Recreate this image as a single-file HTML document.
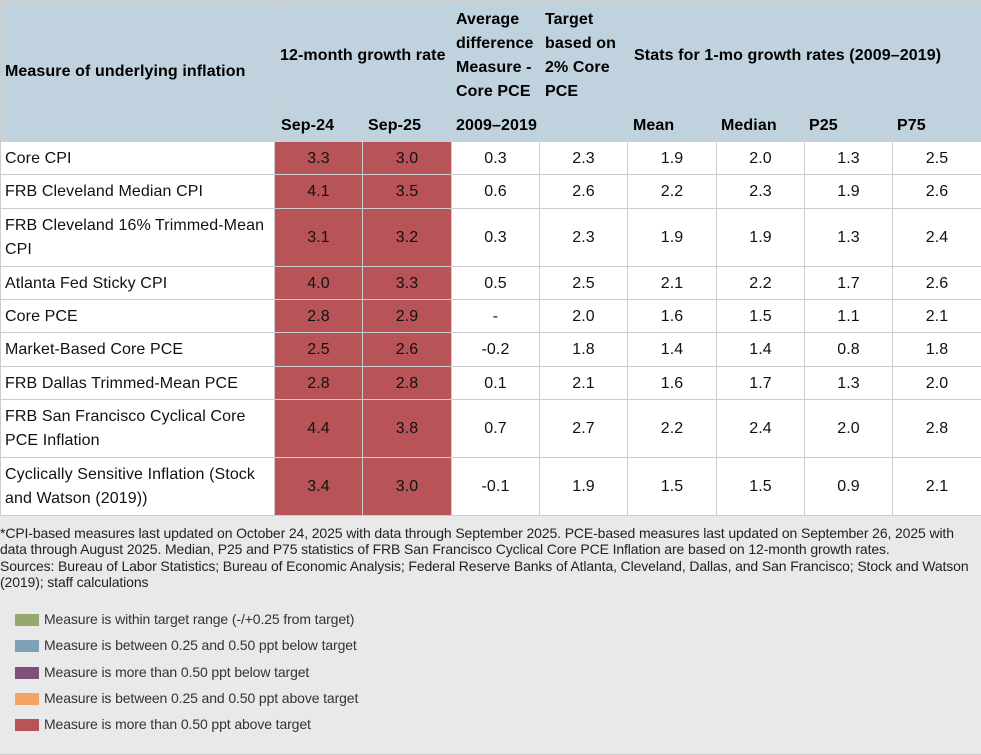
<!DOCTYPE html>
<html lang="en">
<head>
<meta charset="utf-8">
<title>Measures of underlying inflation</title>
<style>
  html, body { margin: 0; padding: 0; }
  body { width: 981px; height: 755px; position: relative; overflow: hidden; background: #e9e9e9;
         font-family: "Liberation Sans", Arial, sans-serif; color: #111; }
  #inflation-table { position: absolute; left: 0; top: 0; width: 981px; table-layout: fixed;
         border-collapse: separate; border-spacing: 0; background: #fff; font-size: 16px; line-height: 24px; letter-spacing: 0.1px; }
  #inflation-table th, #inflation-table td { box-sizing: border-box; padding: 0; overflow: visible; }
  #inflation-table th { background: #bfd2dd; font-weight: bold; text-align: left; padding-left: 5px;
         border-right: 1px solid #c9d2d7; border-bottom: 1px solid #c9d2d7; vertical-align: middle; color: #000; }
  #inflation-table tr.hdr1 th { border-top: 1px solid #ccc; padding-top: 3px; }
  #inflation-table tr.hdr1 th.single-line { padding-top: 4px; padding-bottom: 1px; }
  #inflation-table tr.hdr1 th.first { padding-top: 2px; }
  #inflation-table tr.hdr2 th { border-bottom: 0; padding-top: 1px; }
  #inflation-table th.first { border-left: 1px solid #ccc; padding-left: 4px; }
  #inflation-table th.last { border-right: 0; }
  #inflation-table td { border-right: 1px solid #ccc; border-bottom: 1px solid #ccc; text-align: center; vertical-align: middle; color: #111; padding-top: 1px; }
  #inflation-table tr.short-row td { padding-top: 2px; }
  #inflation-table td.name { border-left: 1px solid #ccc; text-align: left; padding-left: 4px; padding-right: 4px; }
  #inflation-table td.last { border-right: 0; }
  #footnote { position: absolute; left: 0; top: 525px; font-size: 14px; color: #222; white-space: nowrap; line-height: 16.3px; letter-spacing: -0.12px; }
  .legend-swatch { position: absolute; left: 15px; width: 24px; height: 12px; }
  .legend-label { position: absolute; left: 44px; font-size: 14px; line-height: 16px; color: #333; white-space: nowrap; letter-spacing: -0.115px; }
  #bottom-rule { position: absolute; left: 0; top: 754px; width: 981px; height: 1px; background: #ccc; }
</style>
</head>
<body>
<table id="inflation-table">
  <colgroup>
    <col style="width:275px"><col style="width:88px"><col style="width:89px"><col style="width:88px"><col style="width:88px"><col style="width:89px"><col style="width:88px"><col style="width:88px"><col style="width:88px">
  </colgroup>
  <thead>
    <tr class="hdr1" style="height:109px">
      <th class="first" rowspan="2">Measure of underlying inflation</th>
      <th class="single-line" colspan="2">12-month growth rate</th>
      <th style="padding-left:4px">Average difference Measure - Core PCE</th>
      <th style="padding-left:5px">Target based on 2% Core PCE</th>
      <th class="last single-line" colspan="4" style="padding-left:6px">Stats for 1-mo growth rates (2009–2019)</th>
    </tr>
    <tr class="hdr2" style="height:33px">
      <th style="padding-left:6px">Sep-24</th>
      <th>Sep-25</th>
      <th style="padding-left:4px;white-space:nowrap">2009–2019</th>
      <th></th>
      <th>Mean</th>
      <th style="padding-left:4px">Median</th>
      <th style="padding-left:4px">P25</th>
      <th class="last" style="padding-left:4px">P75</th>
    </tr>
  </thead>
  <tbody id="table-body"></tbody>
</table>

<div id="footnote">*CPI-based measures last updated on October 24, 2025 with data through September 2025. PCE-based measures last updated on September 26, 2025 with<br>data through August 2025. Median, P25 and P75 statistics of FRB San Francisco Cyclical Core PCE Inflation are based on 12-month growth rates.<br>Sources: Bureau of Labor Statistics; Bureau of Economic Analysis; Federal Reserve Banks of Atlanta, Cleveland, Dallas, and San Francisco; Stock and Watson<br>(2019); staff calculations</div>

<div class="legend-swatch" style="top:614px;background:#95a96f"></div>
<div class="legend-label" style="top:611px">Measure is within target range (-/+0.25 from target)</div>
<div class="legend-swatch" style="top:640px;background:#7ea1b5"></div>
<div class="legend-label" style="top:637px">Measure is between 0.25 and 0.50 ppt below target</div>
<div class="legend-swatch" style="top:667px;background:#7f5179"></div>
<div class="legend-label" style="top:664px">Measure is more than 0.50 ppt below target</div>
<div class="legend-swatch" style="top:693px;background:#f4a460"></div>
<div class="legend-label" style="top:690px">Measure is between 0.25 and 0.50 ppt above target</div>
<div class="legend-swatch" style="top:719px;background:#b85458"></div>
<div class="legend-label" style="top:716px">Measure is more than 0.50 ppt above target</div>
<div id="bottom-rule"></div>

<script>
const measures = ["Core CPI", "FRB Cleveland Median CPI", "FRB Cleveland 16% Trimmed-Mean CPI", "Atlanta Fed Sticky CPI", "Core PCE", "Market-Based Core PCE", "FRB Dallas Trimmed-Mean PCE", "FRB San Francisco Cyclical Core PCE Inflation", "Cyclically Sensitive Inflation (Stock and Watson (2019))"];
const sep24 = ["3.3", "4.1", "3.1", "4.0", "2.8", "2.5", "2.8", "4.4", "3.4"];
const sep25 = ["3.0", "3.5", "3.2", "3.3", "2.9", "2.6", "2.8", "3.8", "3.0"];
const avgDiff = ["0.3", "0.6", "0.3", "0.5", "-", "-0.2", "0.1", "0.7", "-0.1"];
const target = ["2.3", "2.6", "2.3", "2.5", "2.0", "1.8", "2.1", "2.7", "1.9"];
const mean = ["1.9", "2.2", "1.9", "2.1", "1.6", "1.4", "1.6", "2.2", "1.5"];
const median = ["2.0", "2.3", "1.9", "2.2", "1.5", "1.4", "1.7", "2.4", "1.5"];
const p25 = ["1.3", "1.9", "1.3", "1.7", "1.1", "0.8", "1.3", "2.0", "0.9"];
const p75 = ["2.5", "2.6", "2.4", "2.6", "2.1", "1.8", "2.0", "2.8", "2.1"];

const rowHeights = [33, 34, 58, 33, 33, 34, 33, 58, 58];

function heatColor(value, goal) {
  const gap = parseFloat(value) - parseFloat(goal);
  if (gap > 0.5) return "#b85458";
  if (gap > 0.25) return "#f4a460";
  if (gap < -0.5) return "#7f5179";
  if (gap < -0.25) return "#7ea1b5";
  return "#95a96f";
}

const tbody = document.getElementById("table-body");
measures.forEach(function (measure, i) {
  const row = document.createElement("tr");
  row.style.height = rowHeights[i] + "px";
  if (rowHeights[i] === 33) row.className = "short-row";
  
  

  const nameCell = document.createElement("td");
  nameCell.className = "name";
  nameCell.textContent = measure;
  
  
  row.appendChild(nameCell);

  const sep24Cell = document.createElement("td");
  sep24Cell.textContent = sep24[i];
  sep24Cell.style.background = heatColor(sep24[i], target[i]);
  
  
  row.appendChild(sep24Cell);

  const sep25Cell = document.createElement("td");
  sep25Cell.textContent = sep25[i];
  sep25Cell.style.background = heatColor(sep25[i], target[i]);
  
  
  row.appendChild(sep25Cell);

  const diffCell = document.createElement("td");
  diffCell.textContent = avgDiff[i];
  
  
  row.appendChild(diffCell);

  const targetCell = document.createElement("td");
  targetCell.textContent = target[i];
  
  
  row.appendChild(targetCell);

  const meanCell = document.createElement("td");
  meanCell.textContent = mean[i];
  
  
  row.appendChild(meanCell);

  const medianCell = document.createElement("td");
  medianCell.textContent = median[i];
  
  
  row.appendChild(medianCell);

  const p25Cell = document.createElement("td");
  p25Cell.textContent = p25[i];
  
  
  row.appendChild(p25Cell);

  const p75Cell = document.createElement("td");
  p75Cell.className = "last";
  p75Cell.textContent = p75[i];
  
  
  row.appendChild(p75Cell);

  tbody.appendChild(row);
});
</script>
</body>
</html>
